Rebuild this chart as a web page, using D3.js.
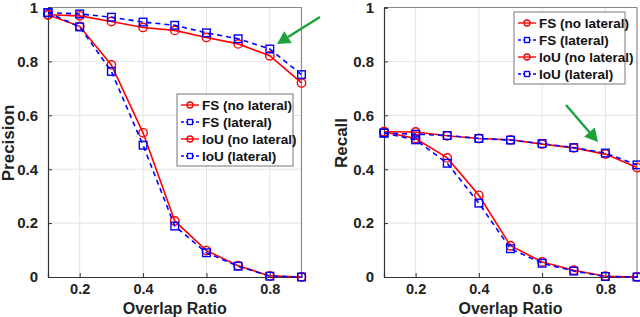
<!DOCTYPE html>
<html>
<head>
<meta charset="utf-8">
<script src="https://cdn.jsdelivr.net/npm/d3@7"></script>
<style>
  body { margin: 0; background: #fff; }
  svg { font-family: "Liberation Sans", Arial, sans-serif; }
</style>
</head>
<body>
<div id="chart"></div>
<script>
// overlap ratios
const overlap = [0.1, 0.2, 0.3, 0.4, 0.5, 0.6, 0.7, 0.8, 0.9];
const xTicks = [0.2, 0.4, 0.6, 0.8];
const yTicks = [0, 0.2, 0.4, 0.6, 0.8, 1];
const seriesNames = ["FS (no lateral)", "FS (lateral)", "IoU (no lateral)", "IoU (lateral)"];

// precision
const precFsNoLat  = [0.973, 0.969, 0.948, 0.926, 0.915, 0.889, 0.865, 0.821, 0.720];
const precFsLat    = [0.981, 0.976, 0.964, 0.946, 0.934, 0.906, 0.884, 0.846, 0.751];
const precIouNoLat = [0.973, 0.930, 0.787, 0.535, 0.208, 0.098, 0.042, 0.004, 0.000];
const precIouLat   = [0.981, 0.928, 0.763, 0.489, 0.189, 0.090, 0.040, 0.003, 0.000];

// recall
const recFsNoLat  = [0.539, 0.538, 0.524, 0.514, 0.509, 0.493, 0.479, 0.456, 0.406];
const recFsLat    = [0.534, 0.530, 0.525, 0.514, 0.508, 0.495, 0.480, 0.460, 0.416];
const recIouNoLat = [0.539, 0.514, 0.442, 0.303, 0.116, 0.056, 0.025, 0.003, 0.000];
const recIouLat   = [0.534, 0.509, 0.422, 0.274, 0.105, 0.051, 0.022, 0.002, 0.000];

const width = 640, height = 317;
const svg = d3.select("#chart").append("svg")
  .attr("width", width).attr("height", height);

const styles = [
  {color: "#ff0000", dash: null, marker: "circle"},
  {color: "#0000ff", dash: "5,4", marker: "square"},
  {color: "#ff0000", dash: null, marker: "circle"},
  {color: "#0000ff", dash: "5,4", marker: "square"}
];

function drawMarker(g, type, color, cx, cy) {
  if (type === "circle") {
    g.append("circle").attr("cx", cx).attr("cy", cy).attr("r", 4.2)
      .attr("fill", "none").attr("stroke", color).attr("stroke-width", 1.4);
  } else {
    g.append("rect").attr("x", cx - 3.8).attr("y", cy - 3.8)
      .attr("width", 7.6).attr("height", 7.6)
      .attr("fill", "none").attr("stroke", color).attr("stroke-width", 1.4);
  }
}

function panel(opts) {
  const x = d3.scaleLinear().domain([0.1, 0.9]).range([opts.left, opts.right]);
  const y = d3.scaleLinear().domain([0, 1]).range([277, 7.5]);
  const g = svg.append("g");

  // grid
  g.append("g").selectAll("line").data(xTicks).join("line")
    .attr("x1", d => x(d)).attr("x2", d => x(d))
    .attr("y1", y(0)).attr("y2", y(1))
    .attr("stroke", "#e3e3e3").attr("stroke-width", 1);
  g.append("g").selectAll("line").data(yTicks.slice(1, -1)).join("line")
    .attr("x1", x(0.1)).attr("x2", x(0.9))
    .attr("y1", d => y(d)).attr("y2", d => y(d))
    .attr("stroke", "#e3e3e3").attr("stroke-width", 1);

  // box top/right
  g.append("path")
    .attr("d", `M${x(0.1)},${y(1)}H${x(0.9)}V${y(0)}`)
    .attr("fill", "none").attr("stroke", "#8a8a8a").attr("stroke-width", 1.2);

  // axes
  const xAxis = d3.axisBottom(x).tickValues(xTicks).tickSize(-4).tickPadding(7)
    .tickFormat(d3.format(".1f"));
  const yAxis = d3.axisLeft(y).tickValues(yTicks).tickSize(-4).tickPadding(10)
    .tickFormat(d => d === 0 || d === 1 ? d : d3.format(".1f")(d));

  g.append("g").attr("transform", `translate(0,${y(0)})`).call(xAxis)
    .call(a => a.select(".domain").attr("stroke", "#333").attr("stroke-width", 1.2))
    .call(a => a.selectAll(".tick line").attr("stroke", "#333"))
    .call(a => a.selectAll("text").attr("font-size", 14.5).attr("font-weight", "bold").attr("fill", "#222"));
  g.append("g").attr("transform", `translate(${x(0.1)},0)`).call(yAxis)
    .call(a => a.select(".domain").attr("stroke", "#333").attr("stroke-width", 1.2))
    .call(a => a.selectAll(".tick line").attr("stroke", "#333"))
    .call(a => a.selectAll("text").attr("font-size", 15).attr("font-weight", "bold").attr("fill", "#222"));

  // labels
  g.append("text").attr("x", (x(0.1) + x(0.9)) / 2).attr("y", 313.5)
    .attr("text-anchor", "middle").attr("font-size", 16).attr("font-weight", "bold")
    .attr("fill", "#222").text("Overlap Ratio");
  g.append("text")
    .attr("transform", `translate(${opts.labelX},${opts.labelY}) rotate(-90)`)
    .attr("text-anchor", "middle").attr("font-size", 17).attr("font-weight", "bold")
    .attr("fill", "#222").text(opts.ylabel);

  // series (draw lateral after no-lateral so blue lies on top where equal)
  const order = [0, 2, 1, 3];
  const line = d3.line().x((d, i) => x(overlap[i])).y(d => y(d));
  order.forEach(k => {
    const s = styles[k];
    const vals = opts.series[k];
    const sg = g.append("g");
    sg.append("path").datum(vals).attr("d", line)
      .attr("fill", "none").attr("stroke", s.color).attr("stroke-width", 1.6)
      .attr("stroke-dasharray", s.dash);
    vals.forEach((v, i) => drawMarker(sg, s.marker, s.color, x(overlap[i]), y(v)));
  });

  // legend
  const lg = g.append("g").attr("transform", `translate(${opts.legX},${opts.legY})`);
  lg.append("rect").attr("width", opts.legW).attr("height", 72)
    .attr("fill", "#fff").attr("stroke", "#777").attr("stroke-width", 1);
  seriesNames.forEach((name, k) => {
    const s = styles[k];
    const ly = 11 + k * 17;
    lg.append("line").attr("x1", 4).attr("x2", 22).attr("y1", ly).attr("y2", ly)
      .attr("stroke", s.color).attr("stroke-width", 1.4)
      .attr("stroke-dasharray", s.dash ? "3,2" : null);
    const mg = lg.append("g");
    if (s.marker === "circle") {
      mg.append("circle").attr("cx", 13).attr("cy", ly).attr("r", 3)
        .attr("fill", "none").attr("stroke", s.color).attr("stroke-width", 1.3);
    } else {
      mg.append("rect").attr("x", 10.5).attr("y", ly - 2.5).attr("width", 5).attr("height", 5)
        .attr("fill", "#fff").attr("stroke", s.color).attr("stroke-width", 1.3);
    }
    lg.append("text").attr("x", 25).attr("y", ly + 5)
      .attr("font-size", 13.5).attr("font-weight", "bold").attr("fill", "#111").text(name);
  });

  // green arrow
  const a = opts.arrow;
  const ang = Math.atan2(a[3] - a[1], a[2] - a[0]);
  const hl = 13, hw = 7;
  const bx = a[2] - hl * Math.cos(ang), by = a[3] - hl * Math.sin(ang);
  g.append("line").attr("x1", a[0]).attr("y1", a[1]).attr("x2", bx).attr("y2", by)
    .attr("stroke", "#1aa33a").attr("stroke-width", 2.4);
  g.append("path")
    .attr("d", `M${a[2]},${a[3]}L${bx + hw * Math.sin(ang)},${by - hw * Math.cos(ang)}L${bx - hw * Math.sin(ang)},${by + hw * Math.cos(ang)}Z`)
    .attr("fill", "#1aa33a");
}

panel({
  left: 48, right: 301.5, ylabel: "Precision", labelX: 14, labelY: 143,
  series: [precFsNoLat, precFsLat, precIouNoLat, precIouLat],
  legX: 177, legY: 94, legW: 116,
  arrow: [320, 17, 277, 44]
});

panel({
  left: 384, right: 637, ylabel: "Recall", labelX: 347, labelY: 143,
  series: [recFsNoLat, recFsLat, recIouNoLat, recIouLat],
  legX: 514, legY: 12, legW: 111,
  arrow: [566, 105, 598, 142]
});
</script>
</body>
</html>
